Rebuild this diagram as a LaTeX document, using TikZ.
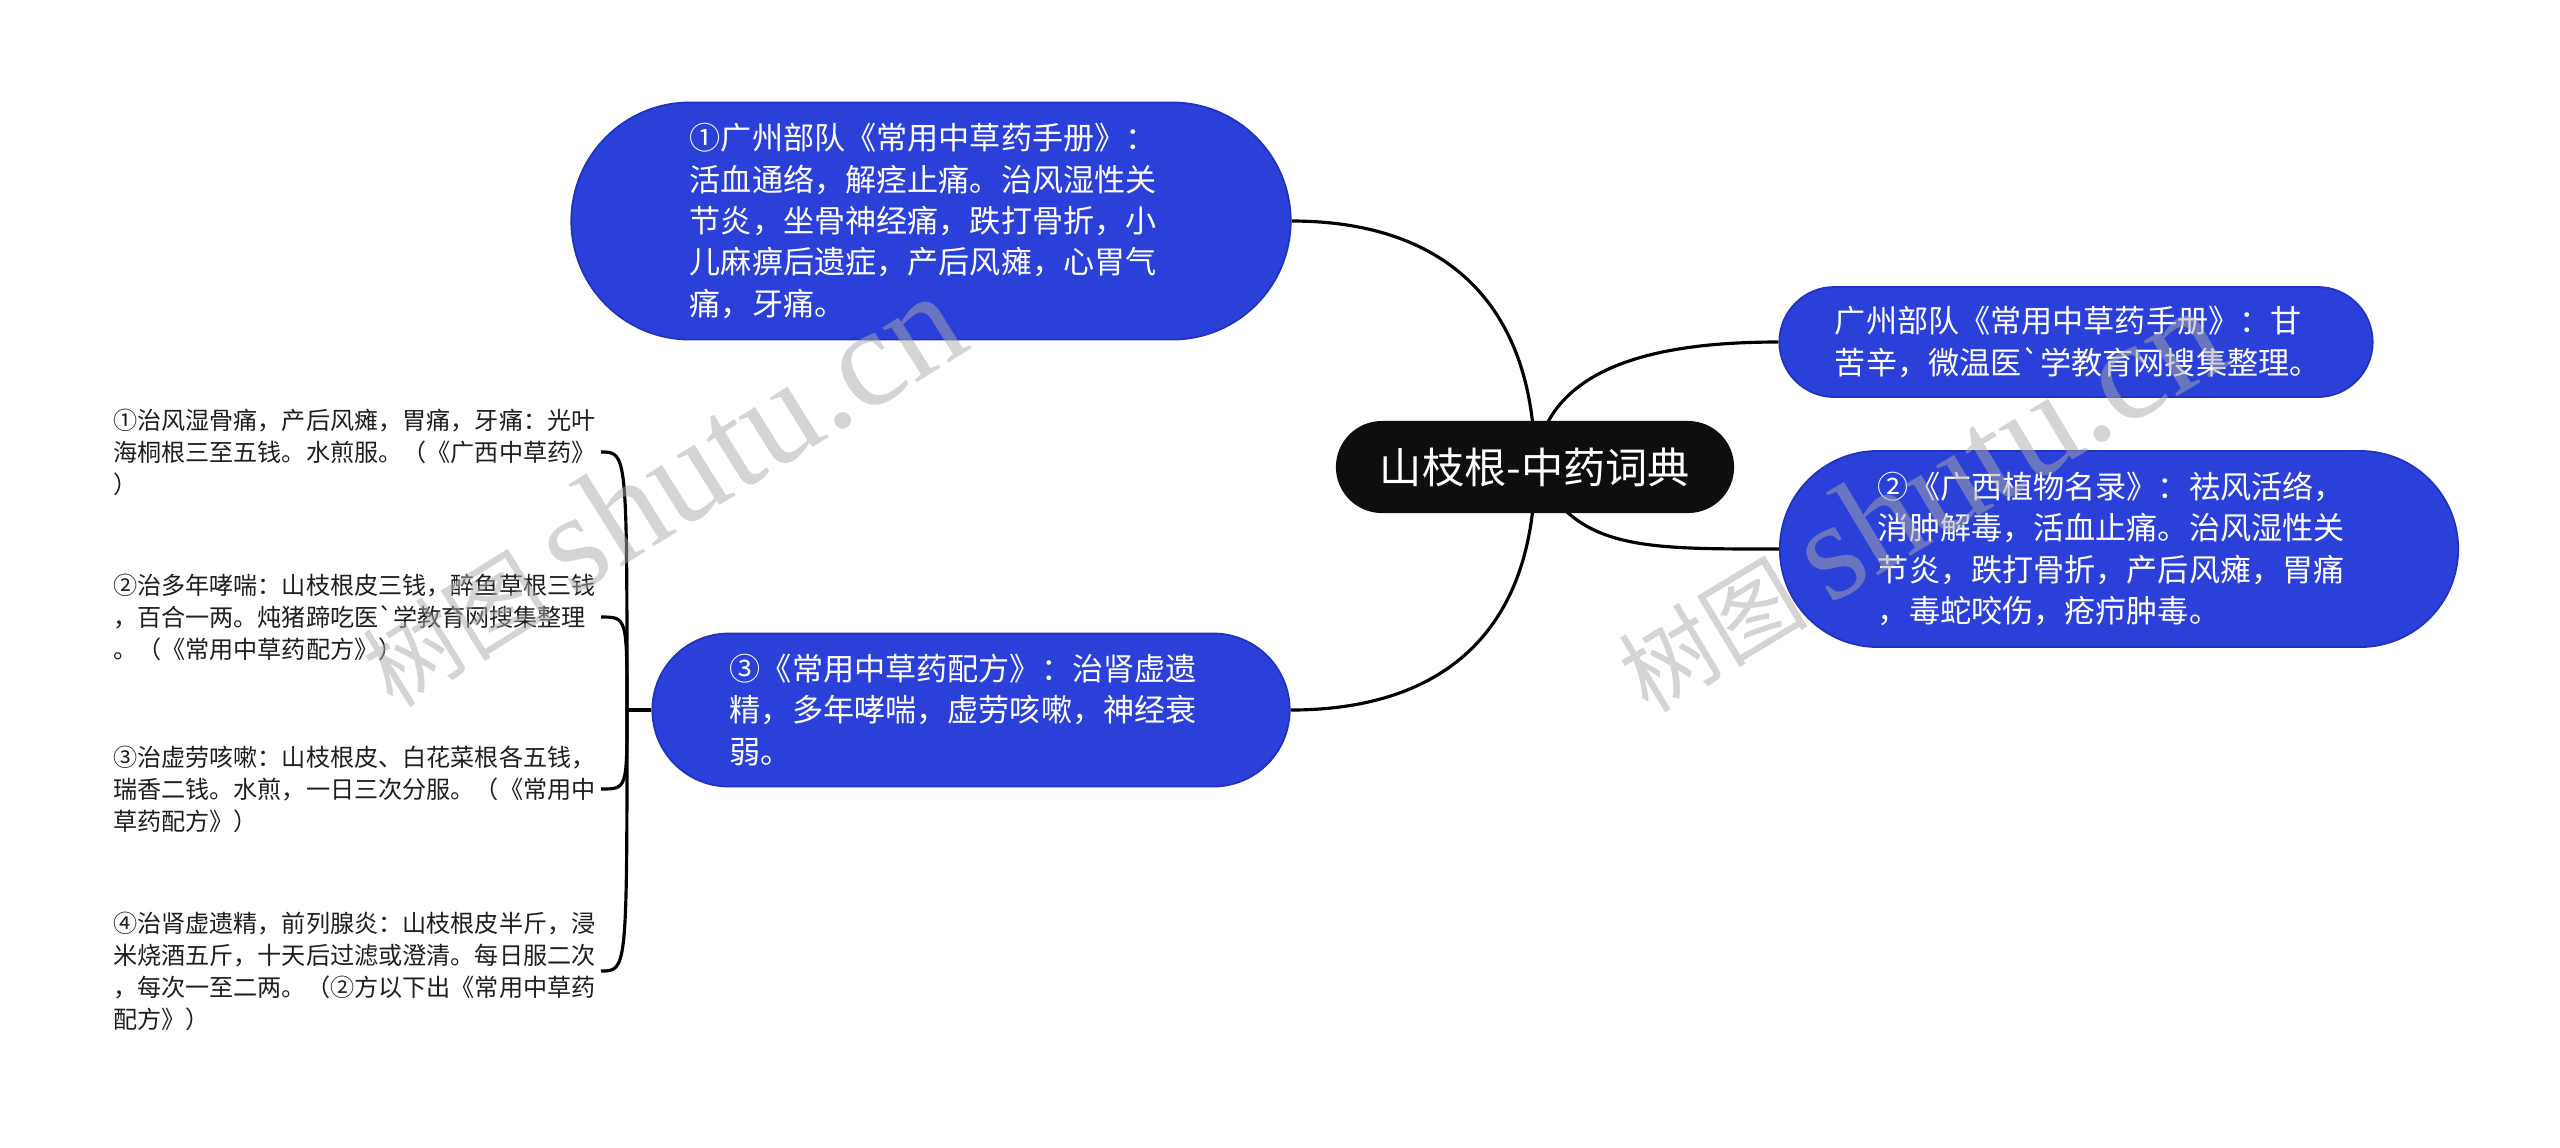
\documentclass[tikz,border=0pt]{standalone}
\usepackage{fontspec}
\setmainfont{Noto Sans CJK SC}[Ligatures=TeXOff]
\newfontfamily\wmfont{Liberation Serif}
\usetikzlibrary{shapes.misc,backgrounds}
\definecolor{topicblue}{RGB}{42,64,216}
\definecolor{topicedge}{RGB}{32,50,190}
\definecolor{rootblack}{RGB}{14,14,14}
\definecolor{leaftext}{RGB}{30,30,30}
\definecolor{wmgray}{RGB}{170,170,170}
\tikzset{
  root/.style={rounded rectangle, fill=rootblack, text=white, inner xsep=0pt,
    inner ysep=0pt, minimum height=0.92cm, minimum width=3.98cm,
    font=\fontsize{12}{14}\selectfont},
  topic/.style={rounded rectangle, fill=topicblue, draw=topicedge, line width=0.5pt,
    text=white, inner xsep=0pt, inner ysep=0pt, text width=4.82cm, align=left,
    font=\fontsize{8.85}{11.75}\selectfont},
  leaf/.style={inner sep=0pt, text width=4.87cm, align=left, text=leaftext,
    font=\fontsize{6.86}{9.1}\selectfont},
  link/.style={line width=0.9pt, black},
  watermark/.style={text=wmgray, opacity=0.5, inner sep=0pt}
}
\begin{document}
\begin{tikzpicture}[x=0.01cm,y=-0.01cm]
\useasboundingbox (0,0) rectangle (2560,1147);
% central topic
\node[root] (root) at (1535,467) {山枝根-中药词典};
% main branches
\node[topic, minimum width=7.19cm, minimum height=2.37cm] (n1) at (931,221)
  {①广州部队《常用中草药手册》：\\活血通络，解痉止痛。治风湿性关\\节炎，坐骨神经痛，跌打骨折，小\\儿麻痹后遗症，产后风瘫，心胃气\\痛，牙痛。};
\node[topic, minimum width=5.93cm, minimum height=1.10cm] (tr) at (2076,342)
  {广州部队《常用中草药手册》：甘\\苦辛，微温医`学教育网搜集整理。};
\node[topic, minimum width=6.78cm, minimum height=1.96cm] (n2) at (2119,549)
  {②《广西植物名录》：祛风活络，\\消肿解毒，活血止痛。治风湿性关\\节炎，跌打骨折，产后风瘫，胃痛\\，毒蛇咬伤，疮疖肿毒。};
\node[topic, minimum width=6.37cm, minimum height=1.53cm] (n3) at (971,710)
  {③《常用中草药配方》：治肾虚遗\\精，多年哮喘，虚劳咳嗽，神经衰\\弱。};
% prescriptions under n3
\node[leaf, anchor=east] (l1) at (601,452)
  {①治风湿骨痛，产后风瘫，胃痛，牙痛：光叶\\海桐根三至五钱。水煎服。（《广西中草药》\\）};
\node[leaf, anchor=east] (l2) at (601,617)
  {②治多年哮喘：山枝根皮三钱，醉鱼草根三钱\\，百合一两。炖猪蹄吃医`学教育网搜集整理\\。（《常用中草药配方》）};
\node[leaf, anchor=east] (l3) at (601,789)
  {③治虚劳咳嗽：山枝根皮、白花菜根各五钱，\\瑞香二钱。水煎，一日三次分服。（《常用中\\草药配方》）};
\node[leaf, anchor=east] (l4) at (601,971)
  {④治肾虚遗精，前列腺炎：山枝根皮半斤，浸\\米烧酒五斤，十天后过滤或澄清。每日服二次\\，每次一至二两。（②方以下出《常用中草药\\配方》）};
\coordinate (spine) at (627,710);
% connectors
\begin{scope}[on background layer]
\draw[link] (root.center) .. controls +(0,-167) and +(150,0) .. (n1.east);
\draw[link] (root.center) .. controls +(0,167) and +(150,0) .. (n3.east);
\draw[link] (root.center) .. controls +(9,-107) and +(-108,0) .. (tr.west);
\draw[link] (root.center) .. controls +(40,83) and +(-140,0) .. (n2.west);
\draw[link] (n3.west) -- (spine);
\foreach \leafname in {l1,l2,l3,l4}
  \draw[link] (spine) .. controls (spine |- \leafname.east) .. (\leafname.east);
\end{scope}
% watermarks
\node[watermark, rotate=32] (wm1) at (660,490)
  {\fontsize{27}{27}\selectfont 树图 {\wmfont\fontsize{40}{40}\selectfont shutu.cn}};
\node[watermark, rotate=31] (wm2) at (1918,500)
  {\fontsize{27}{27}\selectfont 树图 {\wmfont\fontsize{40}{40}\selectfont shutu.cn}};
\end{tikzpicture}
\end{document}
